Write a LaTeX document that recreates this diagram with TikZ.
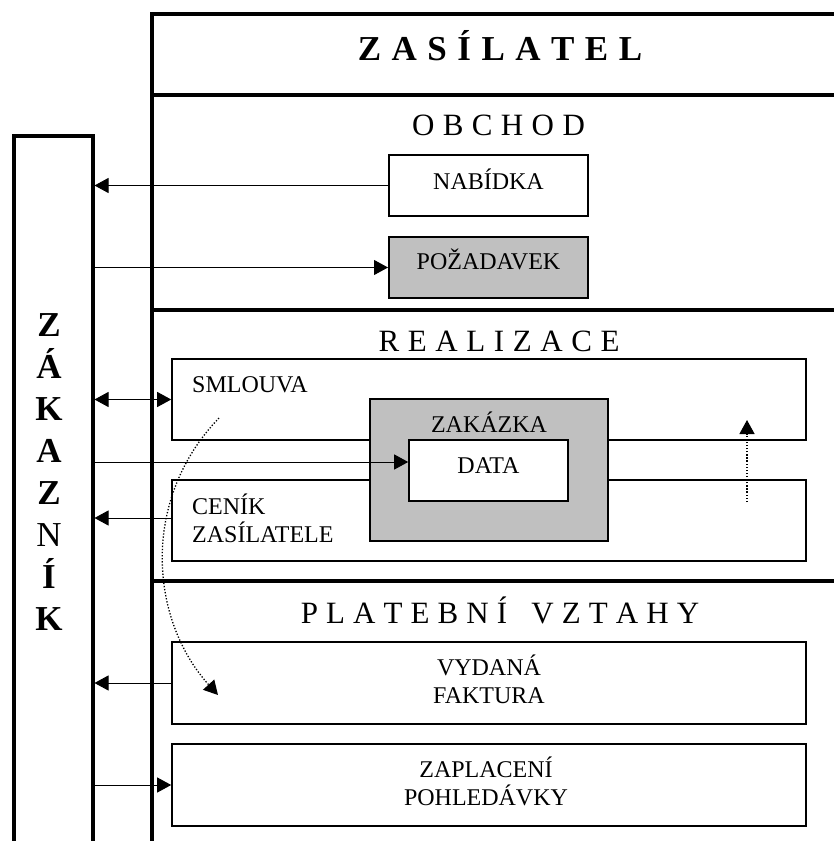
\documentclass[tikz,border=0pt]{standalone}
\usepackage{fontspec}
\setmainfont{Liberation Serif}
\usetikzlibrary{arrows.meta}
\definecolor{boxgray}{HTML}{C0C0C0}
\begin{document}
\begin{tikzpicture}[x=1pt,y=-1pt,
  frame/.style={line width=4pt, line join=miter},
  colbox/.style={draw, line width=4pt, inner sep=0pt, outer sep=2pt,
    minimum width=78.5pt, minimum height=764.5pt},
  box/.style n args={2}{draw, line width=1.6pt, inner sep=0pt,
    minimum width=#1, minimum height=#2},
  shaded/.style={fill=boxgray, line width=2pt},
  lbl/.style={anchor=base, inner sep=0pt, font=\fontsize{24}{28}\selectfont},
  ttl/.style={anchor=base, inner sep=0pt},
  sec/.style={font=\fontsize{31}{36}\selectfont},
  tip/.tip={Triangle[length=14pt,width=15pt]},
  arr/.style={line width=1pt, -tip},
  dbl/.style={line width=1pt, tip-tip},
  dots/.style={line width=1.3pt, dash pattern=on 1.3pt off 1.8pt, -tip}
]
\useasboundingbox (0,0) rectangle (834,841);
\clip (0,0) rectangle (834,841);

% forwarder frame and its section rules
\draw[frame] (834,14) -| (152,860);
\draw[frame] (152,95) -- (834,95);
\draw[frame] (152,310) -- (834,310);
\draw[frame] (152,581) -- (834,581);

% customer column
\node[colbox] (zak) at (53.25,517.75) {};
\node[anchor=base, inner sep=0pt, align=center,
      font=\bfseries\fontsize{35}{42}\selectfont] (zakname) at (49,630)
  {Z\\Á\\K\\A\\Z\\{\mdseries N}\\Í\\K};

% section titles
\node[ttl, font=\bfseries\fontsize{35}{40}\selectfont] (tzas) at (500,60)
  {\spaceskip=10.5pt\relax Z A S Í L A T E L};
\node[ttl, sec] (tobc) at (498.5,135) {\spaceskip=8.4pt\relax O B C H O D};
\node[ttl, sec] (trea) at (499,351) {\spaceskip=8.6pt\relax R E A L I Z A C E};
\node[ttl, sec] (tpla) at (500,623)
  {\spaceskip=8.1pt\relax P L A T E B N Í\hspace{24pt}V Z T A H Y};

% trade
\node[box={199pt}{61pt}] (nab) at (488.5,185.5) {};
\node[lbl] (tnab) at (488.5,189) {NABÍDKA};
\node[box={199pt}{61pt}, shaded] (poz) at (488.5,267.5) {};
\node[lbl] (tpoz) at (488.5,269) {POŽADAVEK};

% realisation
\node[box={634pt}{81pt}] (sml) at (489,399.5) {};
\node[lbl, anchor=base west] (tsml) at (192,392) {SMLOUVA};
\node[box={634pt}{81pt}] (cen) at (489,520.5) {};
\node[lbl, anchor=base west, align=left] (tcen) at (192,542) {CENÍK\\ZASÍLATELE};
\node[box={238pt}{142pt}, shaded] (zkz) at (489,470) {};
\node[lbl] (tzkz) at (489,432) {ZAKÁZKA};
\node[box={159pt}{61pt}, fill=white] (data) at (488.5,470.5) {};
\node[lbl] (tdata) at (488.5,473) {DATA};

% payments
\node[box={634pt}{82pt}] (vyd) at (489,683) {};
\node[lbl, align=center] (tvyd) at (489,703) {VYDANÁ\\FAKTURA};
\node[box={634pt}{82pt}] (zap) at (489,785) {};
\node[lbl, align=center] (tzap) at (486,805) {ZAPLACENÍ\\POHLEDÁVKY};

% flows between customer and forwarder
\draw[arr] (nab.west) -- (nab.west -| zak.east);
\draw[arr] (poz.west -| zak.east) -- (poz.west);
\draw[dbl] (sml.west -| zak.east) -- (sml.west);
\draw[arr] ([yshift=8.5pt]data.west -| zak.east) -- ([yshift=8.5pt]data.west);
\draw[arr] ([yshift=2.5pt]cen.west) -- ([yshift=2.5pt]cen.west -| zak.east);
\draw[arr] (vyd.west) -- (vyd.west -| zak.east);
\draw[arr] (zap.west -| zak.east) -- (zap.west);

% dotted links
\coordinate (fa) at (219,418);
\coordinate (fb) at (218,695);
\draw[dots] (fa) .. controls (140,500) and (150,620) .. (fb);
\coordinate (ua) at (747,502);
\coordinate (ub) at (747,420);
\draw[dots] (ua) -- (ub);
\end{tikzpicture}
\end{document}
